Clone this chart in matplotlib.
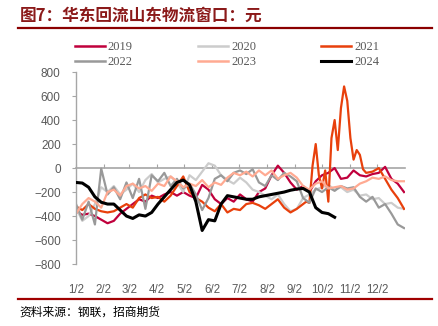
import numpy as np
import matplotlib
matplotlib.use("Agg")
import matplotlib.pyplot as plt
from matplotlib.lines import Line2D

plt.rcParams['font.family'] = ['Liberation Sans', 'DejaVu Sans']

# weekly samples (day offset from 1/2)
week_days = np.arange(53) * 7

y2019 = [-360, -390, -380, -400, -430, -460, -440, -380, -340, -300, -260, -280, -230, -250,
         -220, -200, -230, -200, -230, -250, -140, -180, -260, -300, -250, -280, -220, -260,
         -280, -200, -170, -60, 20, -40, -120, -180, -150, -200, -110, -60, -40, 0, -90, -80,
         -20, -60, -70, -50, -40, 10, -90, -130, -200]
y2020 = [-330, -440, -400, -300, -160, -200, -150, -220, -180, -130, -200, -100, -50, -120,
         -90, -70, -120, -200, -60, -100, -30, 40, 20, -60, -100, -130, -80, -120, -180, -200,
         -230, -260, -220, -300, -360, -340, -250, -220, -180, -160, -140, -180, -160, -200,
         -180, -230, -220, -260, -250, -300, -290, -330, -340]
y2022 = [-300, -430, -280, -470, -5, -220, -160, -260, -120, -250, -90, -340, -60, -110, -40,
         -150, -90, -170, -130, -220, -350, -250, -90, -60, -110, -40, -20, -50, -10, -120,
         -150, -60, -100, -40, -70, -110, -250, -290, -170, -200, -160, -190, -150, -170, -160,
         -240, -280, -240, -330, -300, -380, -470, -500]
y2023 = [-380, -300, -250, -280, -330, -200, -180, -230, -150, -130, -170, -150, -190, -130,
         -150, -70, -110, -160, -130, -150, -100, -160, -120, -140, -80, -40, -60, -30, -70,
         -20, -60, -20, -90, -60, -40, -80, -150, -180, -130, -110, -170, -160, -150, -180,
         -170, -130, -110, -80, -90, -70, -100, -110, -110]

# 2024 stops mid October
days_2024 = np.arange(42) * 7
y2024 = [-120, -125, -160, -240, -285, -300, -300, -350, -400, -420, -390, -400, -370, -300,
         -240, -180, -120, -100, -140, -280, -520, -430, -440, -300, -230, -240, -250, -260,
         -260, -240, -230, -220, -210, -200, -185, -175, -170, -200, -330, -370, -380, -410]

# 2021 needs half-week steps around the autumn spike
wk_2021 = list(range(0, 37)) + list(np.arange(36.5, 46.01, 0.5)) + [47, 48, 49, 50, 51, 52]
days_2021 = np.array(wk_2021) * 7
y2021 = [-320, -350, -300, -340, -360, -370, -360, -330, -300, -330, -250, -220, -250, -240,
         -280, -230, -150, -70, -200, -250, -280, -330, -360, -300, -370, -340, -350, -300,
         -290, -310, -340, -300, -260, -330, -370, -340, -300,
         -280, -290, 20, 200, -60, -170, -20, -280, 250, 400, 150, 500, 680, 560, 250, 70,
         150, 110, -10, -40,
         -30, 0, -90, -180, -250, -340]

years = ['2019', '2020', '2021', '2022', '2023', '2024']
colors = ['#C0003C', '#CCCCCC', '#E8400C', '#999999', '#FFAA92', '#000000']

month_days = [0, 31, 59, 90, 120, 151, 181, 212, 243, 273, 304, 334]
month_labels = ['1/2', '2/2', '3/2', '4/2', '5/2', '6/2', '7/2', '8/2', '9/2', '10/2', '11/2', '12/2']

fig = plt.figure(figsize=(4.38, 3.26), dpi=100)
ax = fig.add_axes([0.1735, 0.19, 0.751, 0.589])

series = [(week_days, y2019), (week_days, y2020), (days_2021, y2021),
          (week_days, y2022), (week_days, y2023), (days_2024, y2024)]
handles = []
for (d, v), name, c in zip(series, years, colors):
    lw = 2.2 if name == '2024' else 1.6
    ax.plot(d, v, color=c, lw=lw, zorder=3 if name == '2024' else 2)
    handles.append(Line2D([0], [0], color=c, lw=2.2 if name == '2024' else 1.8))

ax.set_xlim(0, 365)
ax.set_ylim(-800, 800)
ax.set_yticks(range(-800, 801, 200))
ax.tick_params(axis='y', labelsize=8.5, length=3, width=0.8, pad=8,
               color='#A6A6A6', labelcolor='#595959')

for s in ['top', 'right']:
    ax.spines[s].set_visible(False)
ax.spines['left'].set_color('#A6A6A6')
ax.spines['left'].set_linewidth(1.0)
ax.spines['bottom'].set_position(('data', 0))
ax.spines['bottom'].set_color('#A6A6A6')
ax.spines['bottom'].set_linewidth(1.2)
ax.spines['bottom'].set_zorder(1)
ax.set_xticks(month_days)
ax.set_xticklabels([])
ax.tick_params(axis='x', direction='in', length=3, color='#A6A6A6', width=0.8)

sec = ax.secondary_xaxis('bottom')
sec.spines['bottom'].set_visible(False)
sec.set_xticks(month_days)
sec.set_xticklabels(month_labels)
sec.tick_params(axis='x', length=0, pad=14, labelsize=8.3, colors='#595959')

order = [0, 3, 1, 4, 2, 5]
fig.legend([handles[i] for i in order], [years[i] for i in order], ncol=3,
           loc='upper left', bbox_to_anchor=(0.145, 0.908), frameon=False,
           prop={'family': 'Liberation Serif', 'size': 9}, labelcolor='#595959',
           handlelength=2.4, handletextpad=0.25, columnspacing=5.2, labelspacing=0.25)

fig.text(0.045, 0.952, '图7：华东回流山东物流窗口：元', fontsize=12, fontweight='bold',
         color='#8B1A1A', va='center', ha='left', family=['Noto Sans CJK SC', 'DejaVu Sans'])
fig.add_artist(Line2D([0.041, 0.986], [0.914, 0.914], color='#8B0000', lw=1.6))
fig.add_artist(Line2D([0.041, 0.986], [0.083, 0.083], color='#A00000', lw=1.6))
fig.text(0.045, 0.043, '资料来源：钢联，招商期货', fontsize=8.5, color='#000000',
         va='center', ha='left', family=['Noto Sans CJK SC', 'DejaVu Sans'])

fig.savefig('out.png', dpi=100)
